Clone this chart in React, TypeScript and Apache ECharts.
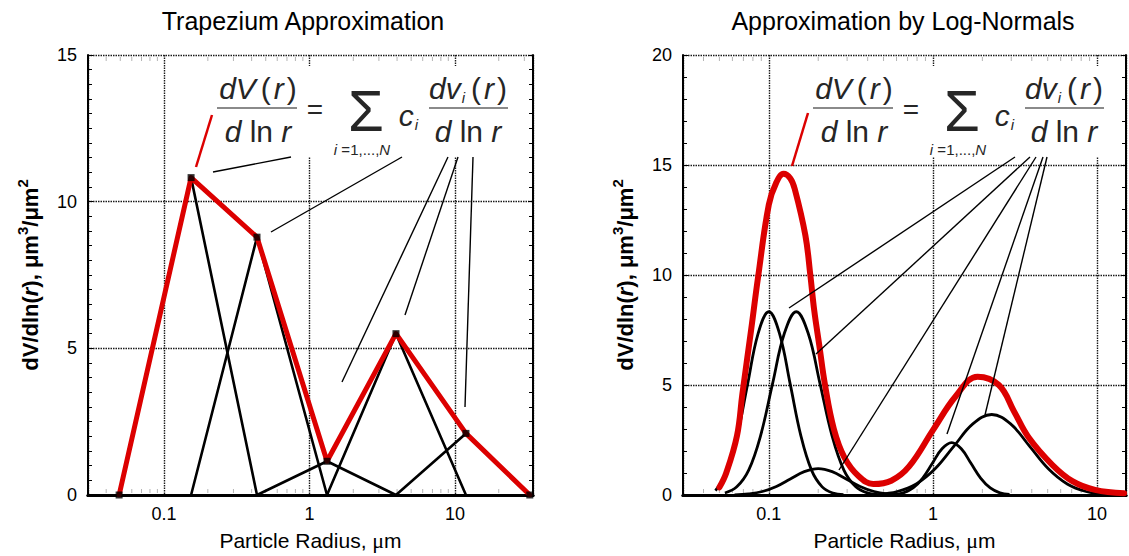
import React, { useEffect, useRef } from 'react';
import * as echarts from 'echarts';

// ---------- Left chart: trapezium approximation ----------
const leftRadius = [0.0491, 0.1534, 0.4355, 1.319, 3.93, 11.9, 32.7];
const leftValue = [0, 10.82, 8.79, 1.15, 5.5, 2.1, 0];
const leftXMin = 0.03;
const leftXMax = 34.4;
const leftYMax = 15;

// ---------- Right chart: log-normal components ----------
const b1R = [0.0473, 0.055, 0.0638, 0.0741, 0.0861, 0.1, 0.1161, 0.1349, 0.1567, 0.182, 0.2113, 0.2455, 0.2851];
const b1V = [0.2, 1.0, 2.6, 5.0, 7.35, 8.33, 7.35, 5.05, 2.7, 1.13, 0.37, 0.09, 0.02];
const b2R = [0.054, 0.0638, 0.0754, 0.0891, 0.1053, 0.1244, 0.147, 0.1737, 0.2052, 0.2425, 0.2866, 0.3387, 0.4002, 0.4729];
const b2V = [0.09, 0.37, 1.13, 2.7, 5.05, 7.35, 8.33, 7.35, 5.05, 2.7, 1.13, 0.37, 0.09, 0.02];
const b3R = [0.0618, 0.0752, 0.0914, 0.1112, 0.1352, 0.1644, 0.2, 0.2432, 0.2958, 0.3597, 0.4375, 0.5321, 0.6471];
const b3V = [0.01, 0.05, 0.16, 0.39, 0.73, 1.06, 1.2, 1.06, 0.73, 0.39, 0.16, 0.05, 0.01];
const b4R = [0.577, 0.6606, 0.7567, 0.8662, 0.9917, 1.1355, 1.3, 1.488, 1.704, 1.951, 2.234, 2.557, 2.927];
const b4V = [0.03, 0.1, 0.32, 0.77, 1.44, 2.1, 2.38, 2.1, 1.44, 0.77, 0.32, 0.1, 0.03];
const b5R = [0.4656, 0.6067, 0.7907, 1.0304, 1.3428, 1.7498, 2.28, 2.972, 3.873, 5.047, 6.577, 8.57, 11.17];
const b5V = [0.04, 0.16, 0.5, 1.19, 2.22, 3.23, 3.66, 3.23, 2.22, 1.19, 0.5, 0.16, 0.04];
const sumR = [0.05, 0.055, 0.064, 0.069, 0.078, 0.086, 0.1, 0.111, 0.123, 0.135, 0.144, 0.167, 0.179, 0.189, 0.203, 0.22, 0.249, 0.289, 0.353, 0.433, 0.557, 0.716, 1.0, 1.38, 1.87, 2.52, 3.12, 3.84, 5.35, 7.07, 9.72, 14.6];
const sumV = [0.35, 1.0, 2.7, 4.6, 7.5, 9.9, 13.2, 14.2, 14.6, 14.4, 13.9, 11.8, 10.0, 8.4, 6.8, 5.0, 3.0, 1.7, 0.85, 0.5, 0.65, 1.3, 2.95, 4.5, 5.38, 5.0, 3.8, 2.6, 1.36, 0.63, 0.23, 0.08];
const rightXMin = 0.03;
const rightXMax = 15;
const rightYMax = 20;

const xTickValues = [0.1, 1, 10];
const xTickLabels = ['0.1', '1', '10'];
const leftMinorTicks = [0.04, 0.05, 0.06, 0.07, 0.08, 0.09, 0.2, 0.3, 0.4, 0.5, 0.6, 0.7, 0.8, 0.9, 2, 3, 4, 5, 6, 7, 8, 9, 20, 30];
const rightMinorTicks = [0.04, 0.05, 0.06, 0.07, 0.08, 0.09, 0.2, 0.3, 0.4, 0.5, 0.6, 0.7, 0.8, 0.9, 2, 3, 4, 5, 6, 7, 8, 9];

const FONT = "'Liberation Sans', Arial, Helvetica, sans-serif";
const RED = '#dc0000';
const INK = '#262626';

const zip = (r: number[], v: number[]) => r.map((x, i) => [x, v[i]]);

const xLabelFormatter = (v: number) => {
  const idx = xTickValues.findIndex((t) => Math.abs(Math.log10(v) - Math.log10(t)) < 1e-6);
  return idx >= 0 ? xTickLabels[idx] : '';
};

const yName = '{b|dV/dln(}{i|r}{b|), μm}{s|3}{b|/μm}{s|2}';
const yNameStyle = {
  rich: {
    b: { fontSize: 22, fontWeight: 'bold', fontFamily: FONT, color: '#000', lineHeight: 30 },
    i: { fontSize: 22, fontWeight: 'bold', fontStyle: 'italic', fontFamily: FONT, color: '#000', lineHeight: 30 },
    s: { fontSize: 15, fontWeight: 'bold', fontFamily: FONT, color: '#000', lineHeight: 15, verticalAlign: 'top' },
  },
};
const xName = '{n|Particle Radius, }{mu|μ}{n|m}';
const xNameStyle = {
  rich: {
    n: { fontSize: 21, fontFamily: FONT, color: '#000' },
    mu: { fontSize: 22, fontFamily: "'Liberation Serif', 'DejaVu Serif', serif", color: '#000' },
  },
};

const gridSplit = { show: true, lineStyle: { color: '#1a1a1a', width: 1.4, type: [1.5, 1] } };

function xAxisPair(gridIndex: number, min: number, max: number) {
  return [
    {
      type: 'log', logBase: 10, gridIndex, min, max, position: 'bottom',
      axisLine: { show: true, lineStyle: { color: '#000', width: 3 } },
      axisTick: { show: false },
      axisLabel: { formatter: xLabelFormatter, fontSize: 18, fontFamily: FONT, color: '#000', margin: 10 },
      splitLine: gridSplit,
      name: xName, nameLocation: 'middle', nameGap: 34, nameTextStyle: xNameStyle,
    },
    {
      type: 'log', logBase: 10, gridIndex, min, max, position: 'top',
      axisLine: { show: true, lineStyle: { color: '#000', width: 3 } },
      axisTick: { show: false }, axisLabel: { show: false }, splitLine: { show: false },
    },
  ];
}

function yAxisPair(gridIndex: number, max: number, minorSplit: number) {
  const tick = { show: true, inside: true, length: 5, lineStyle: { color: '#000', width: 1 } };
  const minor = { show: true, splitNumber: minorSplit, length: 4, lineStyle: { color: '#000', width: 1 } };
  return [
    {
      type: 'value', gridIndex, min: 0, max, interval: 5, position: 'left',
      axisLine: { show: true, lineStyle: { color: '#000', width: 2 } },
      axisTick: tick, minorTick: minor,
      axisLabel: { fontSize: 18, fontFamily: FONT, color: '#000', margin: 11 },
      splitLine: gridSplit,
      name: yName, nameLocation: 'middle', nameRotate: 90, nameGap: 43, nameTextStyle: yNameStyle,
    },
    {
      type: 'value', gridIndex, min: 0, max, interval: 5, position: 'right',
      axisLine: { show: true, lineStyle: { color: '#000', width: 2 } },
      axisTick: tick, minorTick: minor,
      axisLabel: { show: false }, splitLine: { show: false },
    },
  ];
}

function minorTickSeries(xAxisIndex: number, yAxisIndex: number, ticks: number[]) {
  return {
    type: 'custom', xAxisIndex, yAxisIndex, silent: true, z: 1,
    data: ticks.map((t) => [t, 0]),
    renderItem: (params: any, api: any) => {
      const cs = params.coordSys;
      const p = api.coord([api.value(0), 0]);
      const top = cs.y;
      const bottom = cs.y + cs.height;
      return {
        type: 'group',
        children: [
          { type: 'line', shape: { x1: p[0], y1: bottom - 2, x2: p[0], y2: bottom - 6 }, style: { stroke: '#b5b5b5', lineWidth: 1 } },
          { type: 'line', shape: { x1: p[0], y1: top + 2, x2: p[0], y2: top + 6 }, style: { stroke: '#b5b5b5', lineWidth: 1 } },
        ],
      };
    },
  };
}

const fracRich = {
  it: { fontSize: 30, fontStyle: 'italic', fontFamily: FONT, color: INK, lineHeight: 34 },
  n: { fontSize: 30, fontFamily: FONT, color: INK, lineHeight: 34 },
  lp: { fontSize: 30, fontFamily: FONT, color: INK, lineHeight: 34, padding: [0, 3, 0, 5] },
  rp: { fontSize: 30, fontFamily: FONT, color: INK, lineHeight: 34, padding: [0, 0, 0, 3] },
  sub: { fontSize: 15, fontStyle: 'italic', fontFamily: FONT, color: INK, lineHeight: 15, verticalAlign: 'bottom', padding: [0, 1, 0, 1] },
  sig: { fontSize: 58, fontFamily: FONT, color: INK, lineHeight: 34 },
  eq: { fontSize: 28, fontFamily: FONT, color: INK, lineHeight: 24 },
  sm: { fontSize: 15, fontFamily: FONT, color: INK, lineHeight: 14 },
  smi: { fontSize: 15, fontStyle: 'italic', fontFamily: FONT, color: INK, lineHeight: 14 },
};

function txt(x: number, y: number, text: string) {
  return {
    type: 'text', x, y, z: 101,
    style: { text, rich: fracRich, align: 'center', verticalAlign: 'middle', textAlign: 'center', textVerticalAlign: 'middle', fill: INK },
  };
}

function formula(dx: number) {
  return [
    { type: 'rect', z: 100, shape: { x: 205 + dx, y: 66, width: 310, height: 91 }, style: { fill: '#ffffff' } },
    txt(258 + dx, 88, '{it|dV}{lp|(}{it|r}{rp|)}'),
    { type: 'rect', z: 101, shape: { x: 217 + dx, y: 107, width: 80, height: 2 }, style: { fill: '#8a8a8a' } },
    txt(258 + dx, 131, '{it|d}{n| ln }{it|r}'),
    txt(315 + dx, 109, '{eq|=}'),
    txt(366 + dx, 110, '{sig|Σ}'),
    txt(362 + dx, 149, '{smi|i}{sm| =1,...,}{smi|N}'),
    txt(409 + dx, 115, '{it|c}{sub|i}'),
    txt(468 + dx, 88, '{it|dv}{sub|i}{lp|(}{it|r}{rp|)}'),
    { type: 'rect', z: 101, shape: { x: 429 + dx, y: 107, width: 79, height: 2 }, style: { fill: '#8a8a8a' } },
    txt(468 + dx, 131, '{it|d}{n| ln }{it|r}'),
  ];
}

const leaderLines: [number, number, number, number][] = [
  [291, 157, 213, 172], [402, 157, 271, 232], [448, 157, 342, 382], [458, 157, 405, 315], [473, 157, 465, 407],
  [1015, 157, 789, 308], [1030, 157, 816, 354], [1036, 157, 839, 470], [1043, 157, 947, 434], [1047, 157, 985, 415],
];
const redLeaders: [number, number, number, number][] = [[212, 115, 196, 167], [808, 113, 792, 166]];

export default function App() {
  const ref = useRef<HTMLDivElement>(null);
  useEffect(() => {
    if (!ref.current) return;
    const chart = echarts.init(ref.current, undefined, { renderer: 'svg' });
    const leftPts = zip(leftRadius, leftValue);
    const triangles = leftRadius.slice(1, -1).map((r, k) => {
      const i = k + 1;
      return {
        type: 'line', xAxisIndex: 0, yAxisIndex: 0, z: 2, symbol: 'none',
        lineStyle: { color: '#000', width: 2.6 },
        data: [[leftRadius[i - 1], 0], [r, leftValue[i]], [leftRadius[i + 1], 0]],
      };
    });
    const blackCurve = (r: number[], v: number[]) => ({
      type: 'line', xAxisIndex: 2, yAxisIndex: 2, z: 2, symbol: 'none', smooth: 0.4,
      lineStyle: { color: '#000', width: 2.8 }, data: zip(r, v),
    });
    const option: any = {
      animation: false,
      backgroundColor: '#fff',
      grid: [
        { left: 88, top: 55, width: 445, height: 442 },
        { left: 683, top: 55, width: 448, height: 442 },
      ],
      xAxis: [...xAxisPair(0, leftXMin, leftXMax), ...xAxisPair(1, rightXMin, rightXMax)],
      yAxis: [...yAxisPair(0, leftYMax, 10), ...yAxisPair(1, rightYMax, 5)],
      series: [
        minorTickSeries(0, 0, leftMinorTicks),
        minorTickSeries(2, 2, rightMinorTicks),
        ...triangles,
        {
          type: 'line', xAxisIndex: 0, yAxisIndex: 0, z: 3, symbol: 'none',
          lineStyle: { color: RED, width: 5, join: 'round', cap: 'round' }, data: leftPts,
        },
        {
          type: 'scatter', xAxisIndex: 0, yAxisIndex: 0, z: 4, symbol: 'rect', symbolSize: 7,
          itemStyle: { color: '#000' }, data: leftPts,
        },
        blackCurve(b1R, b1V),
        blackCurve(b2R, b2V),
        blackCurve(b3R, b3V),
        blackCurve(b4R, b4V),
        blackCurve(b5R, b5V),
        {
          type: 'line', xAxisIndex: 2, yAxisIndex: 2, z: 3, symbol: 'none', smooth: 0.4,
          lineStyle: { color: RED, width: 6, cap: 'round' }, data: zip(sumR, sumV),
        },
      ],
      graphic: [
        { type: 'text', x: 303, y: 21, z: 101, style: { text: 'Trapezium Approximation', font: `25px ${FONT}`, fill: '#000', align: 'center', verticalAlign: 'middle', textAlign: 'center', textVerticalAlign: 'middle' } },
        { type: 'text', x: 903, y: 21, z: 101, style: { text: 'Approximation by Log-Normals', font: `25px ${FONT}`, fill: '#000', align: 'center', verticalAlign: 'middle', textAlign: 'center', textVerticalAlign: 'middle' } },
        ...formula(0),
        ...formula(596),
        ...leaderLines.map(([x1, y1, x2, y2]) => ({ type: 'line', z: 102, shape: { x1, y1, x2, y2 }, style: { stroke: '#000', lineWidth: 1.4 } })),
        ...redLeaders.map(([x1, y1, x2, y2]) => ({ type: 'line', z: 102, shape: { x1, y1, x2, y2 }, style: { stroke: RED, lineWidth: 2.5 } })),
      ],
    };
    chart.setOption(option);
    return () => chart.dispose();
  }, []);
  return <div ref={ref} style={{ position: 'absolute', left: 0, top: 0, width: 1129, height: 556 }} />;
}
